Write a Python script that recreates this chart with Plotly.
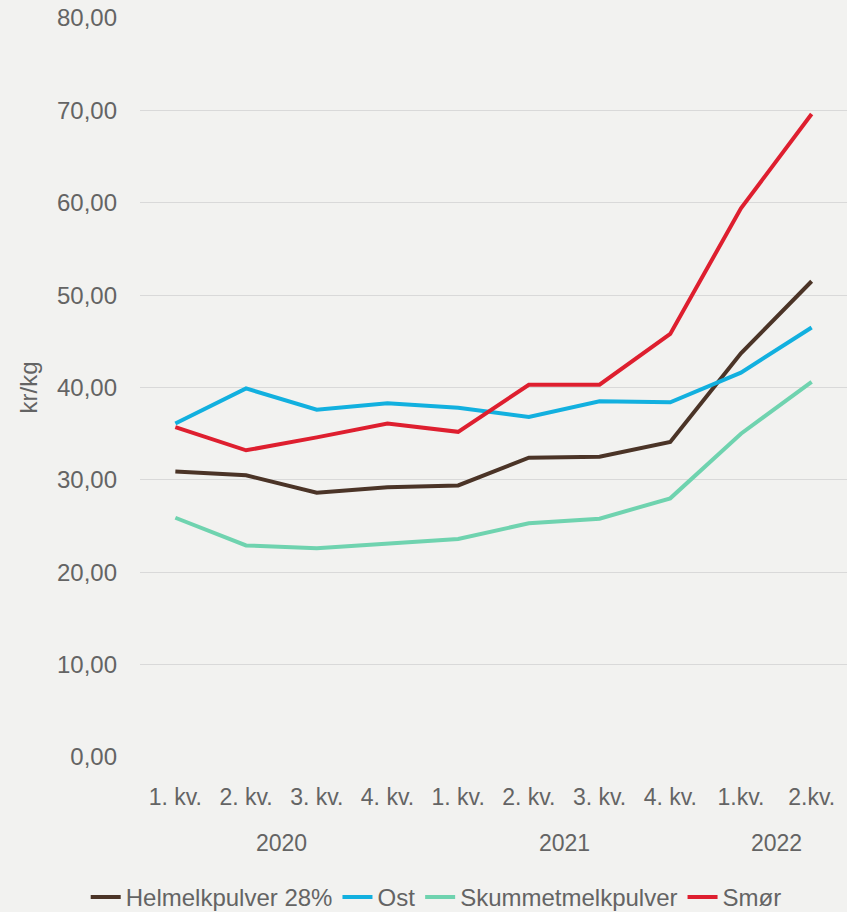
import plotly.graph_objects as go

quarters = ["1. kv.", "2. kv.", "3. kv.", "4. kv.", "1. kv.", "2. kv.", "3. kv.", "4. kv.", "1.kv.", "2.kv."]
years = ["2020", "2021", "2022"]
year_centers = [1.5, 5.5, 8.5]

helmelk = [30.9, 30.5, 28.6, 29.2, 29.4, 32.4, 32.5, 34.1, 43.7, 51.5]
ost = [36.1, 39.9, 37.6, 38.3, 37.8, 36.8, 38.5, 38.4, 41.6, 46.5]
skummet = [25.9, 22.9, 22.6, 23.1, 23.6, 25.3, 25.8, 28.0, 35.0, 40.6]
smor = [35.7, 33.2, 34.6, 36.1, 35.2, 40.3, 40.3, 45.8, 59.4, 69.6]

series = [
    ("Helmelkpulver 28%", helmelk, "#4b3427"),
    ("Ost", ost, "#12b0df"),
    ("Skummetmelkpulver", skummet, "#6fd3af"),
    ("Smør", smor, "#de1f2f"),
]

x = list(range(len(quarters)))
fig = go.Figure()
for name, vals, col in series:
    fig.add_trace(go.Scatter(x=x, y=vals, name=name, mode="lines",
                             line=dict(color=col, width=4)))

font = "Liberation Sans, Arial, sans-serif"
bg = "#f2f2f0"
txt = "#646464"
fig.update_layout(
    width=847, height=912,
    paper_bgcolor=bg, plot_bgcolor=bg,
    margin=dict(l=140, r=0, t=18, b=155, autoexpand=False),
    separators=", ",
    font=dict(family=font, size=24, color=txt),
    showlegend=True,
    legend=dict(orientation="h", xref="container", x=0.515, xanchor="center",
                y=-0.19, yanchor="middle",
                font=dict(size=24, color=txt), tracegroupgap=0),
    xaxis=dict(tickmode="array", tickvals=x, ticktext=quarters, range=[-0.5, 9.5],
               showgrid=False, zeroline=False, showline=False, ticks="",
               ticklabelstandoff=24, tickfont=dict(size=23)),
    yaxis=dict(range=[0, 80], dtick=10, tickformat=".2f", gridcolor="#d9d9d9",
               gridwidth=1, zeroline=False, showline=False, ticks="",
               ticklabelstandoff=22, tickfont=dict(size=24),
               title=dict(text="kr/kg", font=dict(size=24), standoff=12)),
)
for yr, xc in zip(years, year_centers):
    fig.add_annotation(x=xc, xref="x", y=-0.116, yref="paper", text=yr,
                       showarrow=False, yanchor="middle",
                       font=dict(size=23, color=txt))

fig.write_html("out.html", config={"displayModeBar": False},
               post_script="document.body.style.margin='0px';document.body.style.background='#f2f2f0';")
